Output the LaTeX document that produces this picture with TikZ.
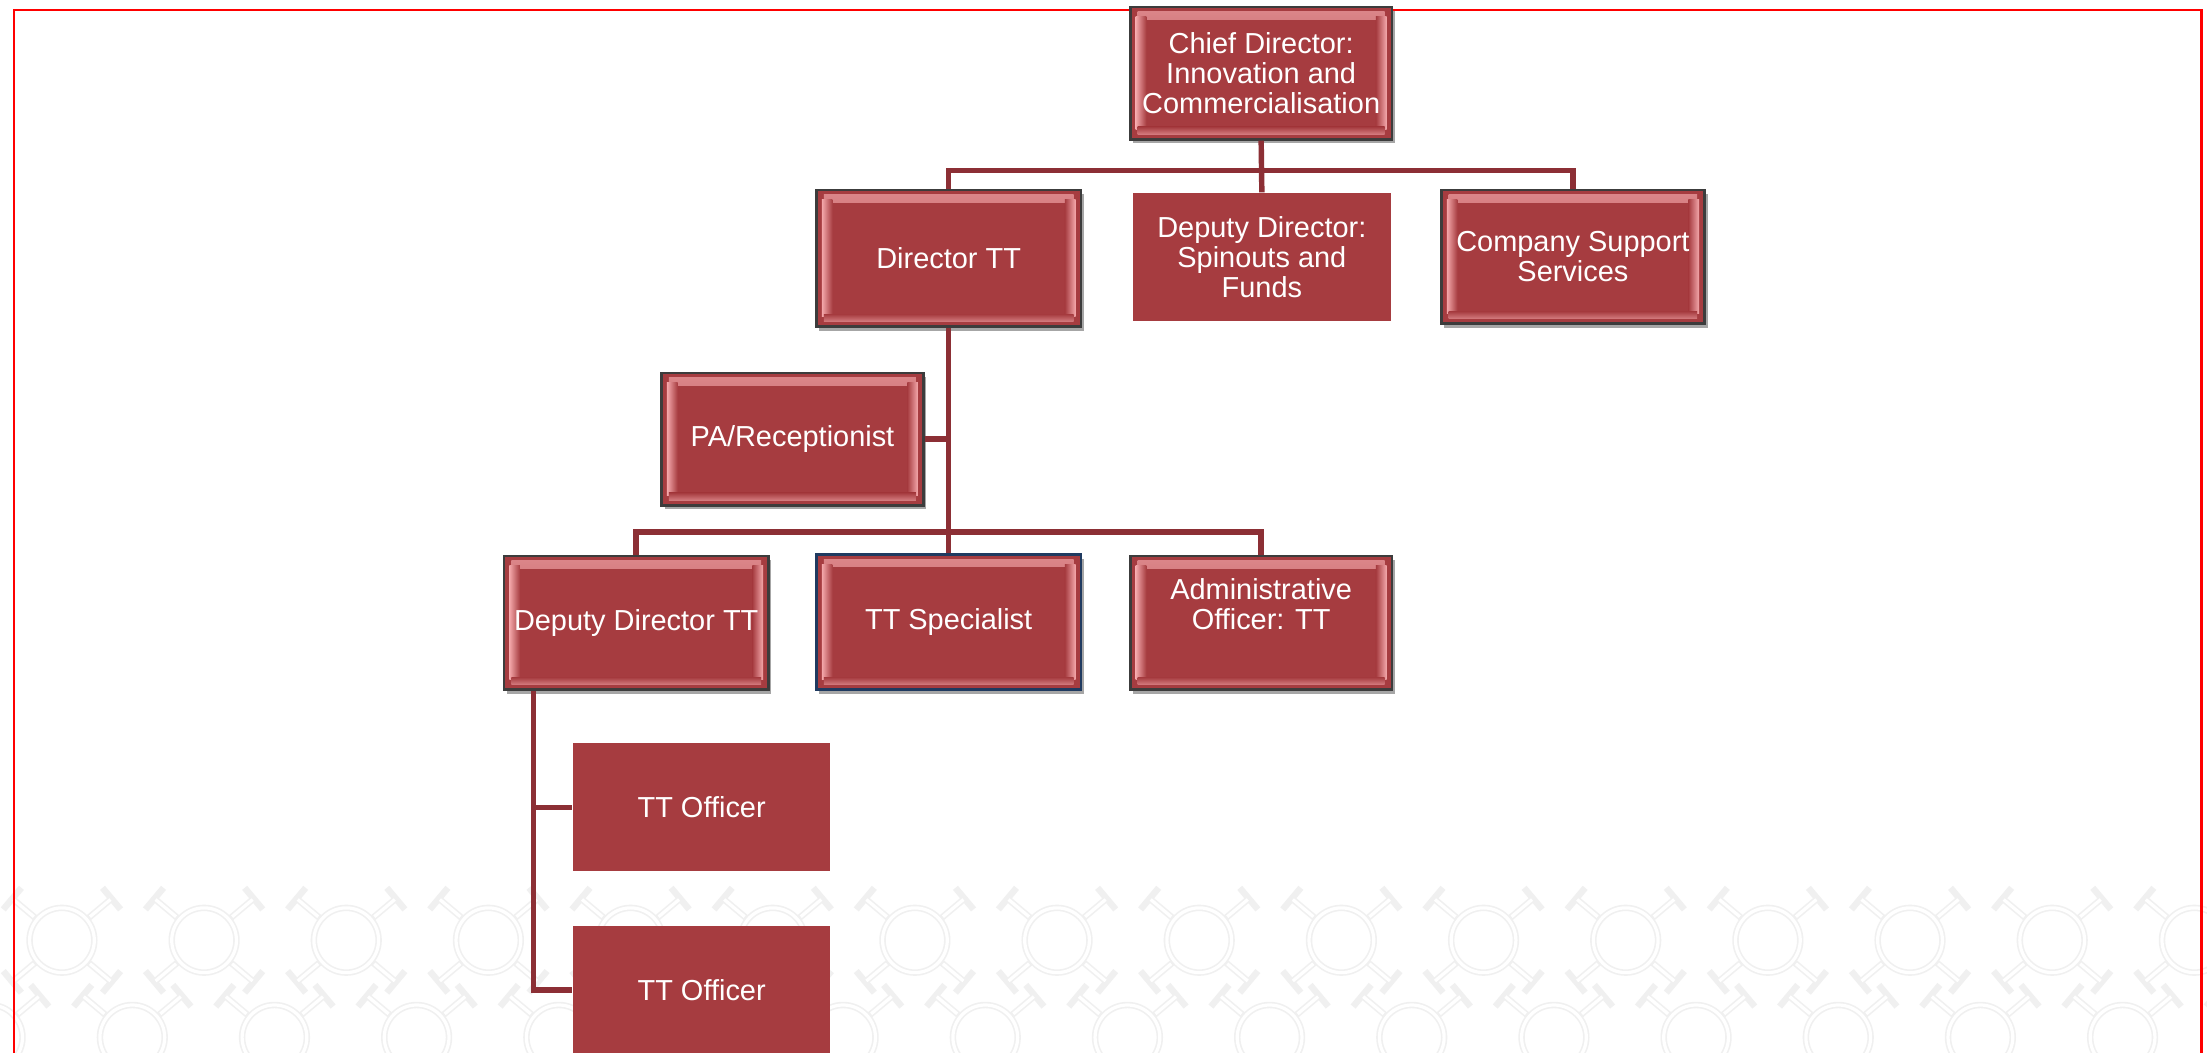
\documentclass[tikz,border=0pt]{standalone}
\usepackage{fontspec}
\setmainfont{Liberation Sans}
\usetikzlibrary{shadows}
\definecolor{boxred}{HTML}{A63C40}
\definecolor{conn}{HTML}{8C2F35}
\definecolor{bord}{HTML}{3C3C3C}
\definecolor{hl}{HTML}{F4A8AB}
\definecolor{navy}{HTML}{1F3A60}
\definecolor{patc}{HTML}{F0F0F0}
\definecolor{framec}{HTML}{FF0000}
\tikzset{
  orgbox/.style={fill=boxred, text=white, align=center, inner sep=0pt,
    font=\fontsize{11.7}{12.1}\selectfont},
  sz/.style 2 args={minimum width=#1*0.02cm, minimum height=#2*0.02cm},
  bevel/.style={orgbox, draw=#1, line width=1.1pt,
    drop shadow={shadow xshift=1.2pt, shadow yshift=-1.6pt, opacity=0.35, fill=black},
    path picture={
      \shade[top color=hl!70!boxred, bottom color=boxred]
        ([shift={(3pt,-2pt)}]path picture bounding box.north west) rectangle
        ([shift={(-3pt,-5pt)}]path picture bounding box.north east);
      \shade[left color=hl, right color=boxred]
        ([shift={(2.2pt,-4pt)}]path picture bounding box.north west) rectangle
        ([shift={(6.5pt,4pt)}]path picture bounding box.south west);
      \shade[right color=hl, left color=boxred]
        ([shift={(-6.5pt,-4pt)}]path picture bounding box.north east) rectangle
        ([shift={(-2.2pt,4pt)}]path picture bounding box.south east);
      \shade[bottom color=hl!60!boxred, top color=boxred]
        ([shift={(3pt,5pt)}]path picture bounding box.south west) rectangle
        ([shift={(-3pt,2pt)}]path picture bounding box.south east);
    }},
  bevel/.default=bord,
  flatbox/.style={orgbox},
  link/.style={draw=conn, line width=2.2pt},
  patline/.style={draw=patc, line width=2.6pt},
  pathole/.style={draw=white, line width=1.3pt},
}
\begin{document}
\begin{tikzpicture}[x=0.02cm,y=-0.02cm]
\useasboundingbox (0,0) rectangle (1568,748);
\fill[white] (0,0) rectangle (1568,748);
% faint background ornament
\foreach \xx/\yy in {44/668,145/668,246/668,347/668,448/668,549/668,650/668,751/668,852/668,953/668,1054/668,1155/668,1256/668,1357/668,1458/668,1559/668,
  -7/737,94/737,195/737,296/737,397/737,498/737,599/737,700/737,801/737,902/737,1003/737,1104/737,1205/737,1306/737,1407/737,1508/737,1609/737}{
  \begin{scope}[shift={(\xx,\yy)}]
    \foreach \a in {40,140,220,320}{
      \draw[patline] (\a:24) -- (\a:46) ++(\a+90:10) -- ++(\a-90:20);
    }
    \draw[patline] (0,0) circle[radius=0.46cm];
    \foreach \a in {40,140,220,320}{
      \draw[pathole] (\a:26) -- (\a:45);
    }
    \draw[pathole] (0,0) circle[radius=0.46cm];
  \end{scope}
}
% red frame
\draw[framec, line width=1.1pt] (10,760) -- (10,7) -- (1564,7) -- (1564,760);
% boxes
\node[bevel, sz={186}{94}] (chief) at (896,52) {Chief Director:\\Innovation and\\Commercialisation};
\node[bevel, sz={188}{97}] (dirtt) at (674,183.5) {Director TT};
\node[flatbox, sz={183}{91}] (spin) at (896.5,182.5) {Deputy Director:\\Spinouts and\\Funds};
\node[bevel, sz={187}{95}] (comp) at (1117.5,182.5) {Company Support\\Services};
\node[bevel, sz={186}{94}] (pa) at (563,312) {PA/Receptionist};
\node[bevel, sz={188}{95}] (ddtt) at (452,442.5) {Deputy Director TT};
\node[bevel=navy, sz={188}{96}] (spec) at (674,442) {TT Specialist};
\node[bevel, sz={186}{95}] (admin) at (896,442.5) {Administrative\\Officer: TT\\[3pt]~};
\node[flatbox, sz={183}{91}] (off1) at (498.5,573.5) {TT Officer};
\node[flatbox, sz={183}{91}] (off2) at (498.5,703.5) {TT Officer};
% connectors
\coordinate (bus1) at (896,121);
\coordinate (bus2) at (674,378);
\coordinate (trunk) at ([xshift=0.44cm]ddtt.south west);
\draw[link] (chief.south) -- (spin.north);
\draw[link] (dirtt.north) |- (bus1) -| (comp.north);
\draw[link] (dirtt.south) -- (spec.north);
\draw[link] (pa.east) -- (pa.east -| dirtt.south);
\draw[link] (ddtt.north) |- (bus2) -| (admin.north);
\draw[link] (trunk) |- (off2.west);
\draw[link] (trunk |- off1.west) -- (off1.west);
\end{tikzpicture}
\end{document}
